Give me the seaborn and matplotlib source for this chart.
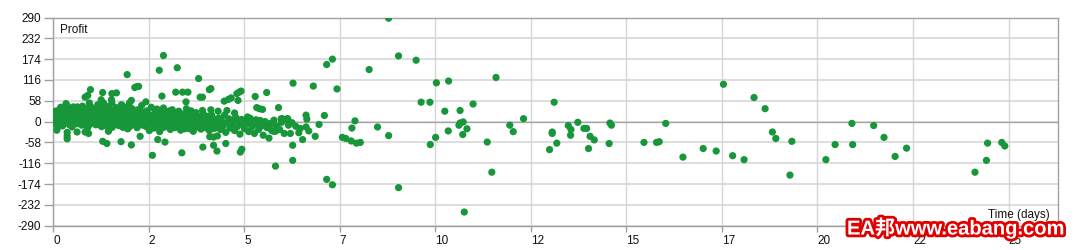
import matplotlib
matplotlib.use("Agg")
import matplotlib.pyplot as plt
import matplotlib.transforms as mtransforms
import matplotlib.patheffects as pe
import seaborn as sns
import pandas as pd

# ---------------- data ----------------
# dense cluster, first days
days_a = [0.02, 0.05, 0.08, 0.10, 0.12, 0.15, 0.17, 0.20, 0.22, 0.25, 0.27, 0.30, 0.32, 0.35, 0.37, 0.40,
          0.42, 0.45, 0.47, 0.50, 0.52, 0.55, 0.57, 0.60, 0.62, 0.65, 0.67, 0.70, 0.72, 0.75, 0.77, 0.80,
          0.82, 0.85, 0.87, 0.90, 0.92, 0.95, 0.97, 1.00, 1.02, 1.05, 1.07, 1.10, 1.12, 1.15, 1.17, 1.20,
          1.22, 1.25, 1.27, 1.30, 1.32, 1.35, 1.37, 1.40, 1.42, 1.45, 1.47, 1.50, 1.52, 1.55, 1.57, 1.60,
          1.62, 1.65, 1.67, 1.70, 1.72, 1.75, 1.77, 1.80, 1.82, 1.85, 1.87, 1.90, 1.92, 1.95, 1.97, 2.00,
          2.02, 2.05, 2.07, 2.10, 2.12, 2.15, 2.17, 2.20, 2.22, 2.25, 2.27, 2.30, 2.32, 2.35, 2.37,
          0.03, 0.09, 0.13, 0.18, 0.23, 0.28, 0.33, 0.38, 0.43, 0.48, 0.53, 0.58, 0.63, 0.68, 0.73, 0.78,
          0.83, 0.88, 0.93, 0.98, 1.03, 1.08, 1.13, 1.18, 1.23, 1.28, 1.33, 1.38, 1.43, 1.48, 1.53, 1.58,
          1.63, 1.68, 1.73, 1.78, 1.83, 1.88, 1.93, 1.98, 2.03, 2.08, 2.13, 2.18, 2.23, 2.28, 2.33, 2.38]
profit_a = [5, 18, -8, 30, 12, -3, 25, 40, 8, -12, 20, 33, 2, 15, 45, -5,
            28, 10, 36, -15, 22, 4, 31, 14, -6, 38, 19, 7, 26, -10, 43, 16,
            1, 29, 11, -18, 34, 21, 6, 40, -2, 24, 13, 33, -9, 18, 47, 3,
            27, 9, -14, 37, 20, 0, 30, 12, -7, 42, 23, 5, 32, -16, 15, 28,
            -1, 39, 10, 22, -11, 35, 17, 2, 44, 25, -5, 14, 31, -20, 8, 27,
            -13, 19, 36, 3, -8, 24, 12, -17, 33, 6, -3, 21, 45, -10, 15,
            28, 14, -15, 3, 34, -2, 22, 9, -9, 25, 41, -1, 24, 32, 11, -4,
            20, 37, -12, 26, 15, -5, 30, 22, -1, 16, 44, -12, 8, 35, 19, -8,
            26, 4, 12, 29, -16, 23, 10, 41, 0, 29, 14, -4, 18, 30, -6, 26]

# dense cluster, middle days
days_b = [2.41, 2.44, 2.46, 2.49, 2.52, 2.54, 2.57, 2.59, 2.62, 2.64, 2.67, 2.69, 2.72, 2.74, 2.77, 2.79,
          2.82, 2.84, 2.87, 2.89, 2.92, 2.94, 2.97, 2.99, 3.02, 3.04, 3.07, 3.09, 3.12, 3.14, 3.17, 3.19,
          3.22, 3.24, 3.27, 3.29, 3.32, 3.34, 3.37, 3.39, 3.42, 3.44, 3.47, 3.49, 3.52, 3.54, 3.57, 3.59,
          3.62, 3.64, 3.67, 3.69, 3.72, 3.74, 3.77, 3.79, 3.82, 3.84, 3.87, 3.89, 3.92, 3.94, 3.97, 3.99,
          4.02, 4.04, 4.07, 4.09, 4.12, 4.14, 4.17, 4.19, 4.22, 4.25,
          2.45, 2.55, 2.65, 2.75, 2.85, 2.95, 3.05, 3.15, 3.25, 3.35, 3.45, 3.55, 3.65, 3.75, 3.85, 3.95,
          4.05, 4.15]
profit_b = [8, -14, 30, 3, -25, 18, 40, -6, 12, -18, 26, 0, 35, -10, 15, -28,
            6, 22, -3, 38, -15, 11, 27, -8, 2, 18, -22, 9, 33, -4, 14, -17,
            24, 1, -11, 29, 7, -24, 16, -2, 21, -13, 5, 36, -7, 12, -20, 3,
            19, -9, -27, 10, -1, 25, -15, 6, -5, 14, -21, 2, -10, 20, -3, -17,
            8, -8, 15, -25, 0, -12, 11, -4, -19, 5,
            20, -2, 10, 28, -18, 0, 30, -12, 12, 2, -20, 24, 4, -12, 8, -14,
            -2, 18]

# dense cluster, later days
days_c = [4.30, 4.34, 4.38, 4.41, 4.45, 4.49, 4.52, 4.56, 4.60, 4.63, 4.67, 4.71, 4.75, 4.78, 4.82, 4.86,
          4.89, 4.93, 4.97, 5.01, 5.04, 5.08, 5.12, 5.16, 5.20, 5.23, 5.27, 5.31, 5.35, 5.38, 5.42, 5.46,
          5.50, 5.55, 5.60, 5.66, 5.72, 5.78, 5.85, 5.98, 6.08, 6.16]
profit_c = [-6, 10, -22, 2, -12, 18, -30, -3, 8, -18, -8, 4, -25, 12, -14, -2,
            -35, 6, -10, -20, 2, -5, -28, 9, -15, -1, -33, 5, -9, -22, 3, -12,
            -38, 0, -17, -6, -25, 4, -13, -2, 5, -10]

# scattered trades (outliers and later trades)
days_d = [0.10, 0.34, 0.37, 0.37, 0.37, 0.63, 0.84, 0.91, 0.98, 0.84, 0.93, 1.30, 1.30, 1.41, 1.45, 1.54,
          1.66, 1.78, 1.94, 1.96, 2.05, 2.14, 2.20, 2.24, 2.28, 2.43, 2.60, 2.74, 2.78, 2.89, 2.85, 2.93,
          3.21, 3.25, 3.39, 3.48, 3.37, 3.53, 3.61, 3.81, 3.85, 3.91, 3.91, 3.92, 4.09, 4.13, 4.13, 4.20,
          4.29, 4.10, 4.20, 4.30, 4.32, 4.48, 4.52, 4.55, 4.59, 4.66, 4.84, 4.81, 4.87, 4.92, 4.75, 4.90,
          4.94, 5.09, 5.29, 5.33, 5.40, 5.48, 5.59, 5.65, 5.70, 5.77, 5.82, 5.82, 5.90, 5.93, 5.97, 6.00,
          6.13, 6.05, 1.26, 1.32, 1.53, 1.54, 2.05, 2.00, 0.95, 0.64, 1.79,
          6.28, 6.81, 6.14, 6.21, 6.27, 6.27, 6.35, 6.47, 6.43, 6.53, 6.62, 6.64, 6.62, 6.69, 6.86, 6.96,
          7.10, 6.25,
          8.78, 9.04, 9.50, 7.16, 7.31, 8.27, 7.43, 10.03, 10.35, 11.59, 9.63, 9.86, 10.25, 10.65, 10.99,
          13.11, 12.31, 11.95, 12.04, 7.57, 7.66, 7.80, 7.94, 8.04, 7.82, 7.90, 8.49, 8.78, 9.04, 9.87,
          10.01, 10.34, 10.62, 10.65, 10.73, 10.83, 10.72, 10.76, 11.36, 11.48, 12.99, 13.06, 13.06, 13.18,
          13.48, 13.55, 13.54, 13.73, 7.16, 7.31,
          13.89, 13.96, 14.01, 14.05, 14.16, 14.55, 14.57, 14.61, 15.46, 15.79, 15.86, 16.03, 16.48, 17.01,
          17.35, 17.54, 17.78, 18.08, 18.34, 18.63, 18.82, 18.91, 19.28, 19.33, 20.22, 20.46, 20.90, 20.92,
          21.47, 21.74, 22.03, 22.33, 24.12, 24.42, 24.45, 24.82, 24.90]
profit_d = [-24, 50, -30, -40, -48, -29, 68, 73, 89, -29, -33, 81, -55, -61, -27, 78,
            80, -56, 131, -19, -65, 95, 98, 98, -41, 55, -94, -50, 143, 184, 71, -57,
            82, 150, 82, 55, -87, 82, 30, 120, 68, 68, 31, -71, 89, 92, 33, -66,
            -82, -42, -43, -40, 29, 57, -61, 31, 62, 66, 59, 78, 82, 85, 24, -85,
            -77, 13, 70, 39, 36, 34, 81, -46, -6, -27, -27, -124, 39, -22, 8, 8,
            8, -33, 61, 52, 61, 52, 59, 52, 52, 41, 47,
            107, 99, 8, -33, -66, -108, -13, -19, -31, -50, 18, 7, -15, -26, -41, -8,
            17, -3,
            288, 183, 171, 159, 174, 145, 91, 108, 113, 123, 54, 54, 29, 31, 49,
            54, 8, -10, -28, -44, -47, -54, -60, -58, -18, 2, -15, -39, -184, -64,
            -44, -26, -10, -4, -1, -20, -36, -252, -57, -141, -78, -29, -33, -60,
            -11, -22, -38, -2, -161, -176,
            -19, -19, -75, -41, -51, -61, -4, -10, -58, -58, -56, -5, -99, -75,
            -82, 104, -95, -106, 67, 36, -29, -47, -149, -55, -106, -64, -5, -64,
            -11, -44, -97, -74, -141, -108, -60, -58, -68]

y_ticks = [-290, -232, -174, -116, -58, 0, 58, 116, 174, 232, 290]
x_ticks = [0, 2.5, 5, 7.5, 10, 12.5, 15, 17.5, 20, 22.5, 25]
x_tick_labels = ["0", "2", "5", "7", "10", "12", "15", "17", "20", "22", "25"]
y_label = "Profit"
x_label = "Time (days)"
watermark = "EA邦www.eabang.com"

df = pd.DataFrame({
    "days": days_a + days_b + days_c + days_d,
    "profit": profit_a + profit_b + profit_c + profit_d,
})

# ---------------- drawing ----------------
sns.set_theme(style="white")
plt.rcParams["font.family"] = ["Liberation Sans", "Noto Sans CJK SC", "DejaVu Sans"]

fig = plt.figure(figsize=(10.75, 2.5), dpi=100)
ax = fig.add_axes([53 / 1075, 1 - 225.7 / 250, (1058.3 - 53) / 1075, (225.7 - 17.5) / 250])

ax.set_xlim(0, 26.3)
ax.set_ylim(-290, 290)

for yv in y_ticks:
    ax.axhline(yv, color="#dedede", lw=1.4, zorder=0)
for xv in x_ticks:
    ax.axvline(xv, color="#d6d6d6", lw=1.0, zorder=0)
ax.axhline(0, color="#a6a6a6", lw=1.0, zorder=1)

sns.scatterplot(data=df, x="days", y="profit", ax=ax, color="#17963a",
                s=27, edgecolor="none", linewidth=0, zorder=3, legend=False)

ax.set_yticks(y_ticks)
ax.set_yticklabels([str(v) for v in y_ticks])
ax.set_xticks(x_ticks)
ax.set_xticklabels(x_tick_labels, ha="left")
offset = mtransforms.ScaledTranslation(2 / 100, 0, fig.dpi_scale_trans)
for lbl in ax.get_xticklabels():
    lbl.set_transform(lbl.get_transform() + offset)

ax.tick_params(axis="y", left=True, length=6.5, width=1, color="#a0a0a0",
               labelsize=8.5, pad=2, labelcolor="#111111")
ax.tick_params(axis="x", bottom=True, length=4, width=1, color="#a0a0a0",
               labelsize=8.5, pad=3, labelcolor="#111111")
for sp in ax.spines.values():
    sp.set_color("#a0a0a0")
    sp.set_linewidth(1.0)

ax.set_xlabel("")
ax.set_ylabel("")
ax.text(60 / 1075, 1 - 30 / 250, y_label, transform=fig.transFigure,
        fontsize=8.5, color="#111111", ha="left", va="center")
ax.text(1050 / 1075, 1 - 215 / 250, x_label, transform=fig.transFigure,
        fontsize=8.5, color="#111111", ha="right", va="center")

wm = fig.text(847 / 1075, 1 - 228 / 250, watermark, fontsize=14.5, fontweight="bold",
              color="white", ha="left", va="center",
              family=["Liberation Sans", "Noto Sans CJK SC"])
wm.set_path_effects([pe.withStroke(linewidth=4, foreground="#e00000")])

fig.savefig("out.png", dpi=100)
